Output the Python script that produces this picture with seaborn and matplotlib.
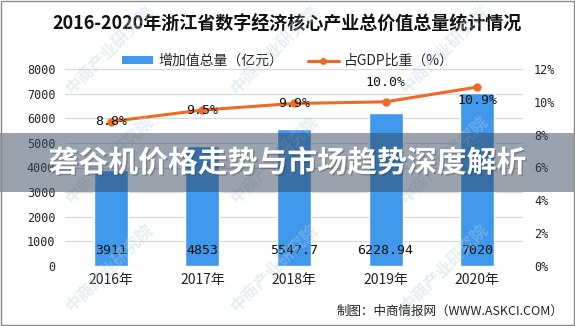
import numpy as np
import pandas as pd
import matplotlib
matplotlib.use("Agg")
import matplotlib.pyplot as plt
import matplotlib.patheffects as pe
from matplotlib.patches import Rectangle, Patch
from matplotlib.lines import Line2D
import seaborn as sns

# Data
years = ["2016年", "2017年", "2018年", "2019年", "2020年"]
added_value = [3911, 4853, 5547.7, 6228.94, 7020]          # 增加值总量（亿元）
added_value_labels = ["3911", "4853", "5547.7", "6228.94", "7020"]
gdp_share = [8.8, 9.5, 9.9, 10.0, 10.9]                     # 占GDP比重（%）
gdp_share_labels = ["8.8%", "9.5%", "9.9%", "10.0%", "10.9%"]
left_ticks = [0, 1000, 2000, 3000, 4000, 5000, 6000, 7000, 8000]
right_ticks = [0, 2, 4, 6, 8, 10, 12]

title = "2016-2020年浙江省数字经济核心产业总价值总量统计情况"
legend_labels = ["增加值总量（亿元）", "占GDP比重（%）"]
banner = "砻谷机价格走势与市场趋势深度解析"
source = "制图：中商情报网（WWW.ASKCI.COM）"
watermark = "中商产业研究院"

sns.set_theme(style="white")
CJK = ["Noto Sans CJK SC", "DejaVu Sans"]
MONO = ["DejaVu Sans Mono", "Noto Sans CJK SC"]
plt.rcParams["font.family"] = CJK

BLUE = "#3f98ec"
ORANGE = "#ee6b26"
GRID = "#d9d9d9"

W, H = 575, 326
fig = plt.figure(figsize=(W / 100, H / 100), dpi=100)
fig.patch.set_facecolor("white")

# plot area in pixels: x 65..523, y 69..266
L, R, T, B = 65, 523, 69, 266
ax = fig.add_axes([L / W, 1 - B / H, (R - L) / W, (B - T) / H])

df = pd.DataFrame({"year": years, "value": added_value, "share": gdp_share})
sns.barplot(data=df, x="year", y="value", color=BLUE, saturation=1,
            width=0.37, ax=ax, zorder=2)
ax.set_xlim(-0.5, len(years) - 0.5)
ax.set_ylim(left_ticks[0], left_ticks[-1])
ax.set_yticks(left_ticks)
ax.set_yticklabels([str(t) for t in left_ticks], family=MONO, fontsize=8.5, color="#222222")
ax.set_xticks(range(len(years)))
ax.set_xticklabels(years, fontsize=10, color="#222222")
ax.set_xlabel("")
ax.set_ylabel("")
ax.tick_params(axis="y", length=0, pad=7)
ax.tick_params(axis="x", length=0, pad=5)
ax.yaxis.grid(True, color=GRID, linewidth=0.9, zorder=0)
ax.set_axisbelow(True)
for s in ax.spines.values():
    s.set_visible(False)

# value labels near the base of each bar
for i, lab in enumerate(added_value_labels):
    ax.text(i, 620, lab, ha="center", va="center", family=MONO,
            fontsize=9.5, color="#111111", zorder=4)

# secondary axis: share of GDP
ax2 = ax.twinx()
sns.lineplot(x=np.arange(len(years)), y=gdp_share, ax=ax2, color=ORANGE,
             linewidth=2.2, marker="o", markersize=6, markeredgewidth=0,
             zorder=3)
ax2.set_ylim(right_ticks[0], right_ticks[-1])
ax2.set_yticks(right_ticks)
ax2.set_yticklabels([f"{t}%" for t in right_ticks], family=MONO, fontsize=8.5, color="#222222")
ax2.tick_params(axis="y", length=0, pad=8)
ax2.set_ylabel("")
for s in ax2.spines.values():
    s.set_visible(False)

offsets = [0, 0, 0, 14, -10]
for i, (v, lab, dy) in enumerate(zip(gdp_share, gdp_share_labels, offsets)):
    ax2.annotate(lab, (i, v), xytext=(0, dy), textcoords="offset points",
                 ha="center", va="center", family=MONO, fontsize=9.5,
                 color="#111111", zorder=5)

# title and legend
fig.text(0.5, 1 - 24 / H, title, ha="center", va="center", fontsize=13,
         fontweight="bold", color="#111111")
handles = [Patch(facecolor=BLUE, edgecolor="none"),
           Line2D([0], [0], color=ORANGE, linewidth=2.2, marker="o",
                  markersize=5, markeredgewidth=0)]
fig.legend(handles, legend_labels, loc="center", ncol=2, frameon=False,
           bbox_to_anchor=(288 / W, 1 - 61 / H), fontsize=10,
           handlelength=2.2, handleheight=0.5, columnspacing=1.8,
           handletextpad=0.4)

# source note
fig.text(563 / W, 1 - 311 / H, source, ha="right", va="center",
         fontsize=9, color="#222222")

# watermarks
for cy in [50, 160, 268]:
    for cx in [110, 275, 445]:
        fig.text(cx / W, 1 - cy / H, watermark, rotation=45, ha="center",
                 va="center", fontsize=12, fontweight="bold",
                 color="#b9cde2", alpha=0.35, zorder=6)

# banner band across the middle
fig.patches.append(Rectangle((0, 1 - 192 / H), 1, 59 / H,
                             transform=fig.transFigure, facecolor="#37475f",
                             alpha=0.5, edgecolor="none", zorder=7))
fig.text(0.5, 1 - 163 / H, banner, ha="center", va="center", fontsize=21.5,
         fontweight="bold", color="white", zorder=8,
         path_effects=[pe.withSimplePatchShadow(offset=(1, -1),
                                                shadow_rgbFace="#333333",
                                                alpha=0.3)])

# outer frame
fig.patches.append(Rectangle((0.5 / W, 1.5 / H), 1 - 1.5 / W, 1 - 2.5 / H,
                             transform=fig.transFigure, facecolor="none",
                             edgecolor="#8a8a8a", linewidth=1, zorder=9))

fig.savefig("out.png", dpi=100)
